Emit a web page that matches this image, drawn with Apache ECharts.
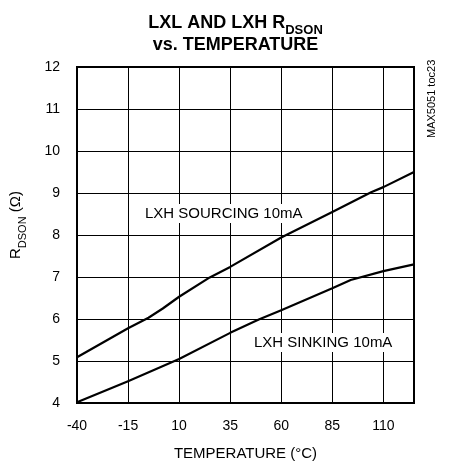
<!DOCTYPE html>
<html>
<head>
<meta charset="utf-8">
<script src="https://cdn.jsdelivr.net/npm/echarts@6/dist/echarts.min.js"></script>
<style>
  html, body { margin: 0; padding: 0; background: #fff; }
  #main { width: 471px; height: 470px; }
</style>
</head>
<body>
<div id="main"></div>
<script>
// values (temperature in °C, RDSON in ohms)
var sourcingTemp = [-40, -15, -5, 2, 10, 25, 35, 60, 85, 104, 110, 125];
var sourcingR = [5.09, 5.78, 6.03, 6.25, 6.53, 6.99, 7.24, 7.94, 8.55, 9.02, 9.14, 9.5];
var sinkingTemp = [-40, -15, 10, 35, 49, 60, 85, 94, 110, 125];
var sinkingR = [4.02, 4.52, 5.05, 5.67, 5.99, 6.21, 6.73, 6.93, 7.14, 7.3];
var xTicks = [-40, -15, 10, 35, 60, 85, 110];
var yTicks = [4, 5, 6, 7, 8, 9, 10, 11, 12];

var FONT = '"Liberation Sans", Arial, sans-serif';

function pairs(xs, ys) {
  return xs.map(function (x, i) { return [x, ys[i]]; });
}

var myChart = echarts.init(document.getElementById('main'));

var option = {
  backgroundColor: '#fff',
  animation: false,
  title: {
    text: '{m|LXL AND LXH R}{s|DSON}\n{m|vs. TEMPERATURE}',
    left: 'center',
    top: 7,
    textStyle: {
      rich: {
        m: { fontFamily: FONT, fontSize: 18, fontWeight: 'bold', color: '#000', lineHeight: 22 },
        s: { fontFamily: FONT, fontSize: 13, fontWeight: 'bold', color: '#000', lineHeight: 13, verticalAlign: 'bottom', padding: [0, 0, -3, 0] }
      }
    }
  },
  grid: {
    left: 77, right: 57, top: 67, bottom: 67,
    show: true, borderColor: '#000', borderWidth: 2
  },
  xAxis: {
    type: 'value',
    min: -40, max: 125, interval: 25,
    name: 'TEMPERATURE (°C)',
    nameLocation: 'middle',
    nameGap: 43,
    nameTextStyle: { fontFamily: FONT, fontSize: 15, color: '#000' },
    axisLine: { show: true, onZero: false, lineStyle: { color: '#000', width: 2 } },
    axisTick: { show: false },
    axisLabel: {
      fontFamily: FONT, fontSize: 14, color: '#000', margin: 16,
      showMaxLabel: false,
      formatter: function (v) { return xTicks.indexOf(v) >= 0 ? String(v) : ''; }
    },
    splitLine: { show: true, lineStyle: { color: '#000', width: 1 } }
  },
  yAxis: {
    type: 'value',
    min: 4, max: 12, interval: 1,
    name: '{m|R}{s|DSON}{m| (Ω)}',
    nameLocation: 'middle',
    nameGap: 52,
    nameTextStyle: {
      padding: [0, 0, 0, 20],
      rich: {
        m: { fontFamily: FONT, fontSize: 15, color: '#000', lineHeight: 18 },
        s: { fontFamily: FONT, fontSize: 11, color: '#000', lineHeight: 11, verticalAlign: 'bottom', padding: [0, 0, -3, 0] }
      }
    },
    axisLine: { show: true, onZero: false, lineStyle: { color: '#000', width: 2 } },
    axisTick: { show: false },
    axisLabel: {
      fontFamily: FONT, fontSize: 14, color: '#000', margin: 17,
      formatter: function (v) { return yTicks.indexOf(v) >= 0 ? String(v) : ''; }
    },
    splitLine: { show: true, lineStyle: { color: '#000', width: 1 } }
  },
  graphic: [
    {
      type: 'text', left: 142, top: 204, z: 100,
      style: {
        text: 'LXH SOURCING 10mA', fontFamily: FONT, fontSize: 15, fill: '#000',
        backgroundColor: '#fff', padding: [2, 3, 2, 3]
      }
    },
    {
      type: 'text', left: 251, top: 333, z: 100,
      style: {
        text: 'LXH SINKING 10mA', fontFamily: FONT, fontSize: 15, fill: '#000',
        backgroundColor: '#fff', padding: [2, 3, 2, 3]
      }
    },
    {
      type: 'text', x: 426, y: 138, rotation: Math.PI / 2, z: 100,
      style: {
        text: 'MAX5051 toc23', fontFamily: FONT, fontSize: 11, fill: '#000'
      }
    }
  ],
  series: [
    {
      name: 'LXH SOURCING 10mA',
      type: 'line',
      data: pairs(sourcingTemp, sourcingR),
      smooth: false,
      symbol: 'none',
      lineStyle: { color: '#000', width: 2.2, join: 'round' },
      z: 5
    },
    {
      name: 'LXH SINKING 10mA',
      type: 'line',
      data: pairs(sinkingTemp, sinkingR),
      smooth: false,
      symbol: 'none',
      lineStyle: { color: '#000', width: 2.2, join: 'round' },
      z: 5
    }
  ]
};

myChart.setOption(option);
</script>
</body>
</html>
